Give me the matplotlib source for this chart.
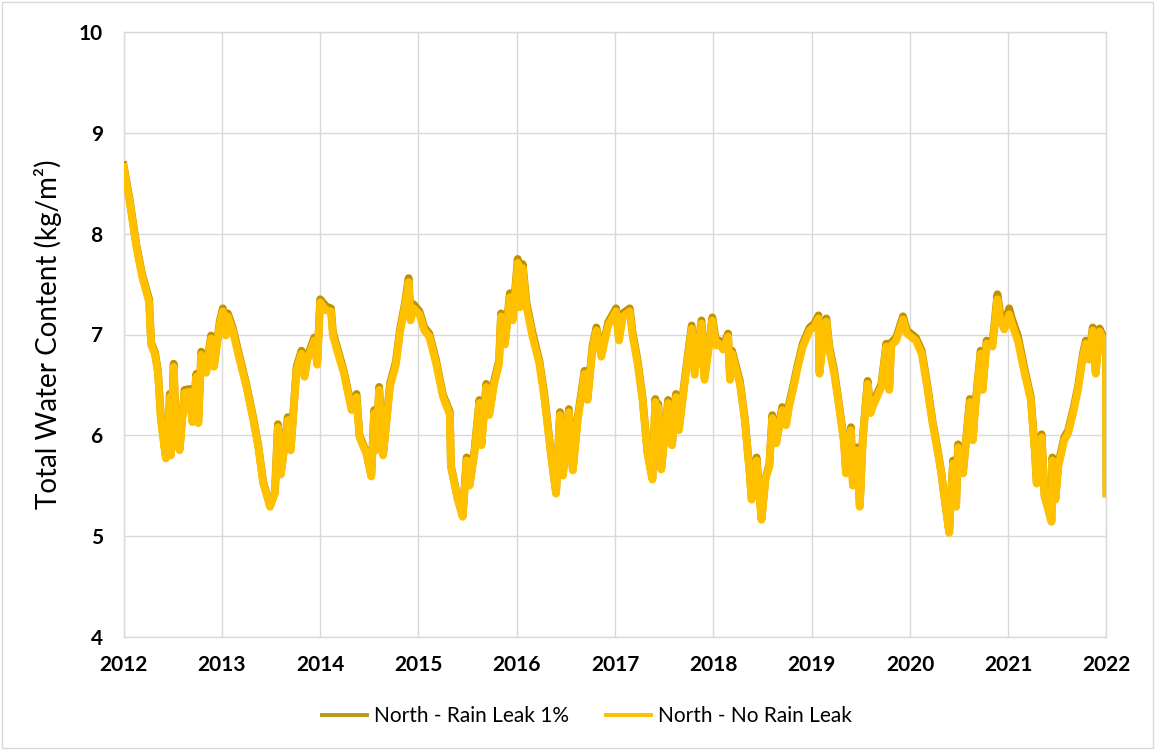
import matplotlib
matplotlib.use('Agg')
import matplotlib.pyplot as plt
from matplotlib.patches import Rectangle

# time axis in decimal years
years = [
    2012.00, 2012.06, 2012.13, 2012.19, 2012.26, 2012.28, 2012.32, 2012.35, 2012.38, 2012.43,
    2012.45, 2012.47, 2012.48, 2012.51, 2012.53, 2012.57, 2012.62, 2012.67, 2012.70, 2012.74,
    2012.76, 2012.79, 2012.84, 2012.89, 2012.92, 2012.98, 2013.01, 2013.04, 2013.06, 2013.11,
    2013.18, 2013.25, 2013.32, 2013.37, 2013.42, 2013.49, 2013.54, 2013.57, 2013.60, 2013.67,
    2013.70, 2013.76, 2013.81, 2013.84, 2013.87, 2013.94, 2013.97, 2014.00, 2014.06, 2014.11,
    2014.13, 2014.20, 2014.24, 2014.32, 2014.37, 2014.40, 2014.47, 2014.52, 2014.55, 2014.57,
    2014.60, 2014.64, 2014.71, 2014.77, 2014.81, 2014.86, 2014.90, 2014.92, 2014.95, 2015.01,
    2015.06, 2015.11, 2015.18, 2015.25, 2015.32, 2015.33, 2015.40, 2015.45, 2015.49, 2015.52,
    2015.57, 2015.62, 2015.64, 2015.69, 2015.72, 2015.77, 2015.82, 2015.84, 2015.88, 2015.93,
    2015.96, 2016.01, 2016.03, 2016.06, 2016.10, 2016.16, 2016.23, 2016.28, 2016.35, 2016.40,
    2016.44, 2016.47, 2016.53, 2016.57, 2016.62, 2016.69, 2016.72, 2016.77, 2016.81, 2016.86,
    2016.93, 2017.01, 2017.04, 2017.08, 2017.15, 2017.18, 2017.23, 2017.28, 2017.33, 2017.38,
    2017.41, 2017.42, 2017.44, 2017.47, 2017.54, 2017.58, 2017.62, 2017.65, 2017.71, 2017.78,
    2017.81, 2017.88, 2017.91, 2017.99, 2018.03, 2018.06, 2018.10, 2018.15, 2018.17, 2018.19,
    2018.27, 2018.32, 2018.37, 2018.39, 2018.42, 2018.44, 2018.49, 2018.53, 2018.57, 2018.60,
    2018.64, 2018.70, 2018.74, 2018.77, 2018.81, 2018.86, 2018.91, 2018.98, 2019.03, 2019.07,
    2019.08, 2019.11, 2019.15, 2019.18, 2019.23, 2019.28, 2019.33, 2019.35, 2019.40, 2019.42,
    2019.46, 2019.49, 2019.52, 2019.57, 2019.60, 2019.62, 2019.71, 2019.76, 2019.79, 2019.81,
    2019.86, 2019.93, 2019.97, 2020.06, 2020.12, 2020.18, 2020.23, 2020.28, 2020.32, 2020.34,
    2020.40, 2020.42, 2020.44, 2020.47, 2020.49, 2020.54, 2020.61, 2020.64, 2020.66, 2020.72,
    2020.74, 2020.78, 2020.84, 2020.89, 2020.92, 2020.96, 2021.01, 2021.04, 2021.10, 2021.17,
    2021.23, 2021.27, 2021.29, 2021.32, 2021.34, 2021.37, 2021.40, 2021.44, 2021.45, 2021.48,
    2021.51, 2021.57, 2021.61, 2021.66, 2021.71, 2021.76, 2021.79, 2021.82, 2021.86, 2021.89,
    2021.93, 2021.97, 2021.995, 2022.00,
]

north_no_leak = [
    8.66, 8.33, 7.87, 7.57, 7.32, 6.90, 6.80, 6.62, 6.15, 5.77,
    5.85, 6.38, 5.80, 6.68, 6.08, 5.85, 6.42, 6.43, 6.13, 6.58,
    6.12, 6.80, 6.62, 6.96, 6.68, 7.11, 7.23, 6.99, 7.18, 7.04,
    6.75, 6.48, 6.15, 5.89, 5.53, 5.29, 5.43, 6.08, 5.61, 6.15,
    5.85, 6.65, 6.81, 6.58, 6.75, 6.94, 6.70, 7.32, 7.24, 7.23,
    6.99, 6.75, 6.62, 6.25, 6.38, 5.98, 5.82, 5.59, 6.22, 5.85,
    6.45, 5.80, 6.48, 6.70, 7.01, 7.27, 7.52, 7.14, 7.26, 7.20,
    7.04, 6.98, 6.71, 6.38, 6.20, 5.69, 5.36, 5.19, 5.75, 5.50,
    5.82, 6.32, 5.90, 6.48, 6.20, 6.51, 6.71, 7.18, 6.90, 7.37,
    7.14, 7.71, 7.27, 7.66, 7.27, 6.98, 6.71, 6.38, 5.79, 5.42,
    6.20, 5.60, 6.23, 5.65, 6.15, 6.61, 6.35, 6.85, 7.04, 6.78,
    7.09, 7.23, 6.94, 7.18, 7.23, 6.98, 6.71, 6.35, 5.82, 5.56,
    6.33, 5.82, 6.28, 5.66, 6.32, 5.90, 6.38, 6.05, 6.53, 7.06,
    6.60, 7.11, 6.55, 7.14, 6.89, 6.91, 6.85, 6.98, 6.55, 6.81,
    6.51, 6.15, 5.62, 5.36, 5.65, 5.75, 5.16, 5.56, 5.69, 6.17,
    5.92, 6.25, 6.10, 6.28, 6.45, 6.68, 6.88, 7.04, 7.08, 7.16,
    6.61, 6.88, 7.13, 6.85, 6.61, 6.28, 5.92, 5.62, 6.05, 5.50,
    5.85, 5.29, 5.95, 6.51, 6.22, 6.28, 6.48, 6.88, 6.45, 6.89,
    6.94, 7.15, 7.01, 6.94, 6.81, 6.45, 6.12, 5.85, 5.62, 5.46,
    5.03, 5.42, 5.72, 5.29, 5.88, 5.62, 6.33, 5.95, 6.22, 6.81,
    6.45, 6.91, 6.88, 7.35, 7.15, 7.05, 7.20, 7.10, 6.93, 6.60,
    6.35, 5.85, 5.52, 5.90, 5.98, 5.39, 5.29, 5.14, 5.75, 5.36,
    5.69, 5.95, 6.02, 6.22, 6.45, 6.78, 6.91, 6.75, 7.04, 6.61,
    7.03, 6.94, 6.95, 5.42,
]

north_leak_1pct = [
    8.68, 8.35, 7.89, 7.59, 7.35, 6.92, 6.82, 6.64, 6.17, 5.78,
    5.87, 6.41, 5.81, 6.71, 6.10, 5.86, 6.45, 6.46, 6.14, 6.61,
    6.13, 6.83, 6.64, 6.99, 6.70, 7.14, 7.26, 7.01, 7.21, 7.07,
    6.78, 6.50, 6.17, 5.90, 5.54, 5.30, 5.44, 6.11, 5.62, 6.18,
    5.86, 6.68, 6.84, 6.60, 6.78, 6.97, 6.72, 7.35, 7.28, 7.26,
    7.02, 6.78, 6.64, 6.27, 6.41, 6.00, 5.83, 5.60, 6.25, 5.86,
    6.48, 5.81, 6.51, 6.73, 7.04, 7.30, 7.56, 7.17, 7.30, 7.23,
    7.07, 7.01, 6.74, 6.40, 6.23, 5.70, 5.37, 5.20, 5.78, 5.51,
    5.85, 6.35, 5.91, 6.51, 6.22, 6.54, 6.74, 7.21, 6.93, 7.41,
    7.17, 7.75, 7.31, 7.70, 7.31, 7.02, 6.74, 6.41, 5.81, 5.43,
    6.23, 5.61, 6.26, 5.66, 6.18, 6.64, 6.37, 6.88, 7.07, 6.81,
    7.12, 7.26, 6.97, 7.21, 7.26, 7.01, 6.74, 6.37, 5.83, 5.57,
    6.36, 5.83, 6.31, 5.67, 6.35, 5.91, 6.41, 6.07, 6.56, 7.09,
    6.63, 7.14, 6.57, 7.17, 6.92, 6.94, 6.88, 7.01, 6.57, 6.84,
    6.54, 6.17, 5.63, 5.37, 5.67, 5.78, 5.17, 5.57, 5.71, 6.20,
    5.93, 6.28, 6.12, 6.31, 6.48, 6.71, 6.91, 7.07, 7.11, 7.19,
    6.63, 6.91, 7.16, 6.88, 6.64, 6.30, 5.94, 5.63, 6.08, 5.51,
    5.88, 5.30, 5.97, 6.54, 6.24, 6.31, 6.51, 6.91, 6.47, 6.92,
    6.97, 7.18, 7.04, 6.97, 6.84, 6.48, 6.14, 5.87, 5.63, 5.47,
    5.04, 5.43, 5.75, 5.30, 5.91, 5.63, 6.36, 5.96, 6.25, 6.84,
    6.47, 6.94, 6.91, 7.40, 7.20, 7.10, 7.26, 7.15, 6.98, 6.64,
    6.38, 5.87, 5.53, 5.93, 6.01, 5.40, 5.30, 5.15, 5.78, 5.37,
    5.72, 5.98, 6.05, 6.25, 6.48, 6.81, 6.94, 6.77, 7.07, 6.63,
    7.06, 6.97, 6.97, 5.43,
]

year_ticks = list(range(2012, 2023))
y_ticks = [4, 5, 6, 7, 8, 9, 10]

grid_col = '#d9d9d9'

fig = plt.figure(figsize=(11.55, 7.5), dpi=100)
ax = fig.add_axes([0.107, 0.151, 0.851, 0.806])

ax.plot(years, north_leak_1pct, color='#bf9000', lw=5.6, solid_joinstyle='round',
        label='North - Rain Leak 1%', zorder=3)
ax.plot(years, north_no_leak, color='#ffc000', lw=5.6, solid_joinstyle='round',
        label='North - No Rain Leak', zorder=4)

ax.set_xlim(2012, 2022)
ax.set_ylim(4, 10)
ax.set_xticks(year_ticks)
ax.set_xticklabels([str(y) for y in year_ticks])
ax.set_yticks(y_ticks)
ax.grid(True, color=grid_col, lw=1)
ax.set_axisbelow(True)
for s in ax.spines.values():
    s.set_color(grid_col)
    s.set_linewidth(1)
ax.tick_params(length=0, labelsize=15, colors='#000000')
ax.tick_params(axis='x', pad=13)
ax.tick_params(axis='y', pad=15)
for lab in ax.get_xticklabels() + ax.get_yticklabels():
    lab.set_family('Lato')
    lab.set_fontweight('bold')

ax.set_ylabel('Total Water Content (kg/m²)', fontsize=20, family='Lato', labelpad=12)

leg = fig.legend(loc='center', bbox_to_anchor=(0.508, 0.045), ncol=2, frameon=False,
                 prop={'family': 'Lato', 'size': 15}, handlelength=2.16,
                 columnspacing=1.78, handletextpad=0.34)
leg.get_lines()[0].set_color('#b89a1c')
for line in leg.get_lines():
    line.set_linewidth(2.8)

fig.patches.append(Rectangle((0.002, 0.003), 0.996, 0.994, transform=fig.transFigure,
                             fill=False, edgecolor=grid_col, lw=1))

fig.savefig('out.png', dpi=100)
